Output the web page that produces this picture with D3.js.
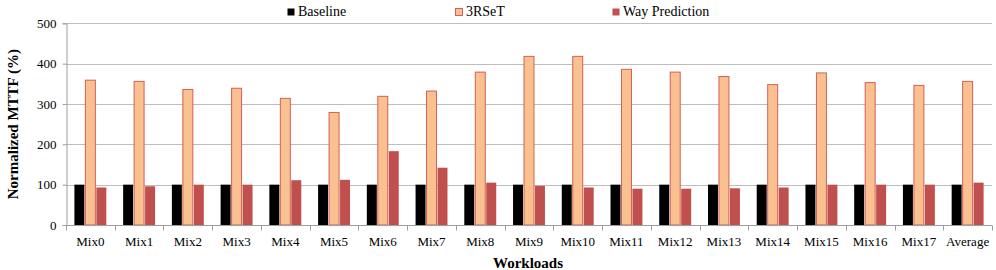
<!DOCTYPE html>
<html lang="en">
<head>
    <meta charset="UTF-8">
    <title>Normalized MTTF</title>
    <script src="https://d3js.org/d3.v7.min.js"></script>
    <style>
        body { margin: 0; background: #fff; }
    </style>
</head>
<body>
    <svg width="996" height="270" id="chart"></svg>

    <script>
        // Data
        const workloads = ["Mix0", "Mix1", "Mix2", "Mix3", "Mix4", "Mix5", "Mix6", "Mix7", "Mix8", "Mix9",
            "Mix10", "Mix11", "Mix12", "Mix13", "Mix14", "Mix15", "Mix16", "Mix17", "Average"];
        const seriesNames = ["Baseline", "3RSeT", "Way Prediction"];
        const baseline = [100, 100, 100, 100, 100, 100, 100, 100, 100, 100, 100, 100, 100, 100, 100, 100, 100, 100, 100];
        const rset = [359, 356, 336, 339, 314, 279, 319, 332, 379, 418, 418, 386, 379, 368, 348, 377, 353, 346, 356];
        const wayPred = [93, 96, 100, 100, 111, 112, 183, 142, 105, 97, 93, 90, 90, 91, 93, 100, 100, 100, 105];
        const yTicks = [0, 100, 200, 300, 400, 500];

        const fills = ["#000000", "#FAC08F", "#C0504D"];
        const strokes = ["#000000", "#D0605A", "#C0504D"];
        const serif = "'Liberation Serif'";

        const svg = d3.select("#chart");
        const plotLeft = 66, plotRight = 992, plotTop = 23.3, plotBottom = 225;

        const x = d3.scaleBand().domain(workloads).range([plotLeft, plotRight]);
        const inner = d3.scaleBand().domain(seriesNames).range([0, x.bandwidth()]).paddingInner(0).paddingOuter(0.72);
        const y = d3.scaleLinear().domain([0, 500]).range([plotBottom, plotTop]);

        // grid lines
        svg.append("g")
            .selectAll("line")
            .data(yTicks.slice(1))
            .join("line")
            .attr("x1", plotLeft).attr("x2", plotRight)
            .attr("y1", d => Math.round(y(d)) + 0.5).attr("y2", d => Math.round(y(d)) + 0.5)
            .attr("stroke", "#BDBDBD");

        // bars
        const table = workloads.map((w, i) => ({ w, vals: [baseline[i], rset[i], wayPred[i]] }));
        const groups = svg.append("g")
            .selectAll("g")
            .data(table)
            .join("g")
            .attr("transform", d => `translate(${x(d.w)},0)`);

        groups.selectAll("rect")
            .data(d => d.vals.map((v, k) => ({ k, v })))
            .join("rect")
            .attr("x", d => inner(seriesNames[d.k]) + 0.5)
            .attr("width", inner.bandwidth() - 1)
            .attr("y", d => y(d.v))
            .attr("height", d => plotBottom - y(d.v))
            .attr("fill", d => fills[d.k])
            .attr("stroke", d => strokes[d.k])
            .attr("stroke-width", d => d.k === 1 ? 1 : 0);

        // y axis
        const yAxis = svg.append("g")
            .attr("transform", `translate(${plotLeft + 0.5},0)`)
            .call(d3.axisLeft(y).tickValues(yTicks).tickSize(4).tickPadding(6));
        yAxis.select(".domain").attr("stroke", "#9E9E9E");
        yAxis.selectAll(".tick line").attr("stroke", "#9E9E9E");
        yAxis.selectAll(".tick text").attr("font-size", 13).attr("fill", "#000")
            .style("font-family", serif);

        // x axis with ticks at category boundaries
        const xAxis = svg.append("g").attr("transform", `translate(0,${plotBottom + 0.5})`);
        xAxis.append("line").attr("x1", plotLeft).attr("x2", plotRight).attr("stroke", "#9E9E9E");
        xAxis.selectAll("line.tk")
            .data(workloads.concat(["end"]))
            .join("line")
            .attr("class", "tk")
            .attr("x1", (d, i) => Math.round(plotLeft + i * x.step()) + 0.5)
            .attr("x2", (d, i) => Math.round(plotLeft + i * x.step()) + 0.5)
            .attr("y1", 0).attr("y2", 5)
            .attr("stroke", "#9E9E9E");
        xAxis.selectAll("text")
            .data(workloads)
            .join("text")
            .attr("x", d => x(d) + x.bandwidth() / 2)
            .attr("y", 20)
            .attr("text-anchor", "middle")
            .attr("font-size", 13)
            .style("font-family", serif)
            .text(d => d);

        // axis titles
        svg.append("text")
            .attr("x", 528).attr("y", 268)
            .attr("text-anchor", "middle")
            .attr("font-size", 15).attr("font-weight", "bold")
            .style("font-family", serif)
            .text("Workloads");
        svg.append("text")
            .attr("transform", `translate(18,${(plotTop + plotBottom) / 2}) rotate(-90)`)
            .attr("text-anchor", "middle")
            .attr("font-size", 15).attr("font-weight", "bold")
            .style("font-family", serif)
            .text("Normalized MTTF (%)");

        // legend
        const legendX = [287, 455, 612];
        const legend = svg.append("g")
            .selectAll("g")
            .data(seriesNames)
            .join("g")
            .attr("transform", (d, i) => `translate(${legendX[i]},0)`);
        legend.append("rect")
            .attr("x", 0.5).attr("y", 8.5)
            .attr("width", 7).attr("height", 7)
            .attr("fill", (d, i) => fills[i])
            .attr("stroke", (d, i) => strokes[i])
            .attr("stroke-width", (d, i) => i === 1 ? 1 : 0);
        legend.append("text")
            .attr("x", 11).attr("y", 16)
            .attr("font-size", 14)
            .style("font-family", serif)
            .text(d => d);
    </script>
</body>
</html>
